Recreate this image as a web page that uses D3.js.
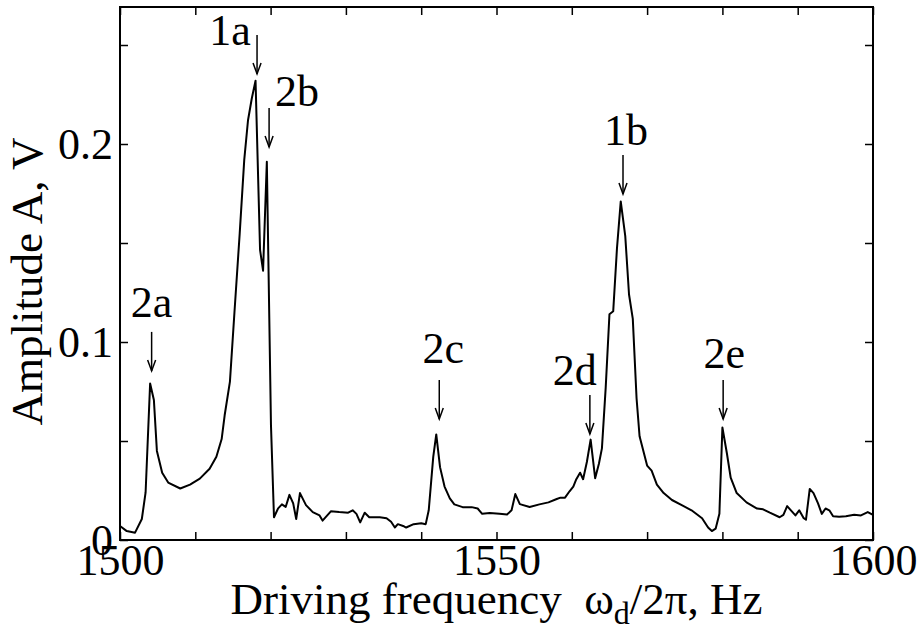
<!DOCTYPE html>
<html>
<head>
<meta charset="utf-8">
<script src="https://cdn.jsdelivr.net/npm/d3@7"></script>
<style>
  body { margin: 0; background: #fff; }
  svg { display: block; }
  text { font-family: "Liberation Serif", "Times New Roman", serif; fill: #000; }
</style>
</head>
<body>
<div id="chart"></div>
<script>
// measured response, frequency in Hz and amplitude in V
var freq = [1500.0, 1500.9, 1502.0, 1502.9, 1503.4, 1504.0, 1504.5, 1504.9, 1505.6, 1506.4,
	1508.0, 1509.3, 1510.6, 1511.9, 1512.8, 1513.5, 1513.9, 1514.6, 1515.2, 1515.9,
	1516.5, 1517.0, 1517.5, 1518.0, 1518.6, 1519.0, 1519.5, 1520.05, 1520.45, 1521.0,
	1521.5, 1522.0, 1522.5, 1523.0, 1523.4, 1523.9, 1524.7, 1525.6, 1526.5, 1526.9,
	1528.0, 1529.1, 1530.3, 1530.9, 1531.4, 1531.9, 1532.5, 1533.1, 1534.5, 1535.4,
	1536.0, 1536.5, 1536.9, 1537.6, 1538.0, 1539.0, 1540.0, 1540.6, 1541.0, 1541.6,
	1542.0, 1542.5, 1543.1, 1543.8, 1544.4, 1545.5, 1546.7, 1547.5, 1548.1, 1549.1,
	1550.4, 1551.4, 1552.0, 1552.5, 1553.1, 1554.4, 1555.7, 1556.9, 1558.0, 1558.5,
	1559.1, 1559.7, 1560.2, 1560.6, 1561.1, 1561.5, 1562.0, 1562.5, 1563.1, 1563.6,
	1564.0, 1564.5, 1565.0, 1565.5, 1566.0, 1566.5, 1567.1, 1567.6, 1568.1, 1568.6,
	1569.0, 1570.0, 1570.6, 1571.3, 1572.2, 1573.3, 1574.6, 1575.9, 1577.3, 1578.1,
	1578.6, 1579.1, 1579.6, 1580.0, 1580.6, 1581.1, 1581.9, 1583.2, 1584.6, 1585.4,
	1586.3, 1587.6, 1588.1, 1588.6, 1589.1, 1589.7, 1590.2, 1590.8, 1591.1, 1591.6,
	1592.1, 1592.7, 1593.2, 1593.7, 1594.2, 1594.7, 1595.5, 1596.4, 1597.5, 1598.4,
	1599.3, 1600.0];
var amp = [0.0071, 0.0045, 0.0037, 0.0106, 0.024, 0.079, 0.0707, 0.045, 0.034, 0.029,
	0.026, 0.028, 0.031, 0.036, 0.042, 0.051, 0.063, 0.080, 0.115, 0.155,
	0.192, 0.212, 0.223, 0.232, 0.1465, 0.136, 0.191, 0.058, 0.0115, 0.016,
	0.018, 0.0167, 0.0228, 0.0185, 0.0106, 0.0237, 0.0176, 0.0141, 0.0124, 0.0098,
	0.0145, 0.0141, 0.0138, 0.015, 0.0132, 0.0089, 0.0138, 0.0115, 0.0115, 0.011,
	0.0092, 0.0063, 0.008, 0.0071, 0.0063, 0.008, 0.0085, 0.008, 0.015, 0.042,
	0.0533, 0.0368, 0.027, 0.021, 0.018, 0.0166, 0.0166, 0.0159, 0.0132, 0.0136,
	0.0132, 0.0129, 0.015, 0.0232, 0.0181, 0.0167, 0.018, 0.019, 0.0207, 0.0214,
	0.0214, 0.0246, 0.027, 0.0307, 0.034, 0.0307, 0.0394, 0.0507, 0.0312, 0.0385,
	0.0463, 0.0768, 0.114, 0.1155, 0.1474, 0.171, 0.1535, 0.124, 0.1117, 0.0716,
	0.0524, 0.0376, 0.035, 0.028, 0.0237, 0.0202, 0.0176, 0.015, 0.011, 0.0063,
	0.0045, 0.0057, 0.0132, 0.0568, 0.0437, 0.0315, 0.0237, 0.019, 0.0159, 0.0155,
	0.0138, 0.0115, 0.0127, 0.0171, 0.015, 0.0124, 0.015, 0.011, 0.0103, 0.0258,
	0.0237, 0.0185, 0.0132, 0.0159, 0.015, 0.012, 0.0118, 0.012, 0.0127, 0.0124,
	0.0141, 0.0127];

var xTicks = [1500, 1510, 1520, 1530, 1540, 1550, 1560, 1570, 1580, 1590, 1600];
var xLabels = [1500, 1550, 1600];
var yTicks = [0, 0.05, 0.1, 0.15, 0.2, 0.25];
var yLabels = [0, 0.1, 0.2];

// peak markers: label, frequency and amplitude at the arrow tip
var peakNames = ["2a", "1a", "2b", "2c", "2d", "1b", "2e"];
var peakFreq = [1504.2, 1518.2, 1519.8, 1542.4, 1562.4, 1566.8, 1580.1];
var peakAmp = [0.0854, 0.2354, 0.1985, 0.0611, 0.0535, 0.1747, 0.0611];
// where each label sits next to its arrow (px)
var nudge = [[0, -15], [-27, 10], [28, -2], [4, -17], [-15, -10], [3, -10], [1, -12]];

var W = 917, H = 631;
var pLeft = 120, pRight = 873, pTop = 7, pBottom = 540;

var svg = d3.select("#chart").append("svg")
	.attr("width", W)
	.attr("height", H);

var x = d3.scaleLinear().domain([1500, 1600]).range([pLeft, pRight]);
var y = d3.scaleLinear().domain([0, (pBottom - pTop) / 1980]).range([pBottom, pTop]);

var fmtX = function(d){ return xLabels.indexOf(d) >= 0 ? d : ""; };
var fmtY = function(d){
	var hit = yLabels.some(function(v){ return Math.abs(v - d) < 1e-9; });
	return hit ? (d === 0 ? "0" : d3.format(".1f")(d)) : "";
};

//axes, ticks pointing inward on all four sides
svg.append("g")
	.attr("class", "xaxis")
	.attr("transform", "translate(0," + pBottom + ")")
	.call(d3.axisBottom(x).tickValues(xTicks).tickSizeInner(-8).tickSizeOuter(0).tickPadding(4).tickFormat(fmtX));
svg.append("g")
	.attr("transform", "translate(0," + pTop + ")")
	.call(d3.axisTop(x).tickValues(xTicks).tickSizeInner(-8).tickSizeOuter(0).tickFormat(""));
svg.append("g")
	.attr("class", "yaxis")
	.attr("transform", "translate(" + pLeft + ",0)")
	.call(d3.axisLeft(y).tickValues(yTicks).tickSizeInner(-8).tickSizeOuter(0).tickPadding(7).tickFormat(fmtY));
svg.append("g")
	.attr("transform", "translate(" + pRight + ",0)")
	.call(d3.axisRight(y).tickValues(yTicks).tickSizeInner(-8).tickSizeOuter(0).tickFormat(""));

svg.selectAll(".domain").remove();
svg.selectAll(".tick line").attr("stroke", "#000").attr("stroke-width", 1.5);
svg.selectAll(".tick text")
	.attr("font-family", "Liberation Serif")
	.attr("font-size", 44)
	.attr("fill", "#000");
svg.selectAll(".xaxis .tick text").attr("dy", "0.71em");

svg.append("rect")
	.attr("x", pLeft)
	.attr("y", pTop)
	.attr("width", pRight - pLeft)
	.attr("height", pBottom - pTop)
	.attr("fill", "none")
	.attr("stroke", "#000")
	.attr("stroke-width", 2);

//curve
var pts = freq.map(function(f, i){ return [f, amp[i]]; });
svg.append("path")
	.datum(pts)
	.attr("fill", "none")
	.attr("stroke", "#000")
	.attr("stroke-width", 2)
	.attr("stroke-linejoin", "round")
	.attr("d", d3.line()
		.x(function(d){ return x(d[0]); })
		.y(function(d){ return y(d[1]); }));

//arrows and labels
var marks = svg.append("g").attr("class", "peaks");
peakNames.forEach(function(name, i){
	var tx = x(peakFreq[i]), ty = y(peakAmp[i]);
	var len = 39;
	marks.append("line")
		.attr("x1", tx).attr("y1", ty - len)
		.attr("x2", tx).attr("y2", ty)
		.attr("stroke", "#000").attr("stroke-width", 1.5);
	marks.append("path")
		.attr("d", "M" + (tx - 4) + "," + (ty - 11) + "L" + tx + "," + ty + "L" + (tx + 4) + "," + (ty - 11))
		.attr("fill", "none").attr("stroke", "#000").attr("stroke-width", 1.5);
	marks.append("text")
		.attr("x", tx + nudge[i][0])
		.attr("y", ty - len + nudge[i][1])
		.attr("text-anchor", "middle")
		.attr("font-size", 44)
		.text(name);
});

//axis titles
svg.append("text")
	.attr("transform", "translate(42," + ((pTop + pBottom) / 2 + 8) + ") rotate(-90)")
	.attr("text-anchor", "middle")
	.attr("font-size", 45)
	.text("Amplitude A, V");

var xt = svg.append("text")
	.attr("x", (pLeft + pRight) / 2)
	.attr("y", 614)
	.attr("text-anchor", "middle")
	.attr("font-size", 45);
xt.append("tspan").text("Driving frequency \u00a0\u03c9");
xt.append("tspan").attr("dy", 10).attr("font-size", 32).text("d");
xt.append("tspan").attr("dy", -10).text("/2\u03c0, Hz");
</script>
</body>
</html>
